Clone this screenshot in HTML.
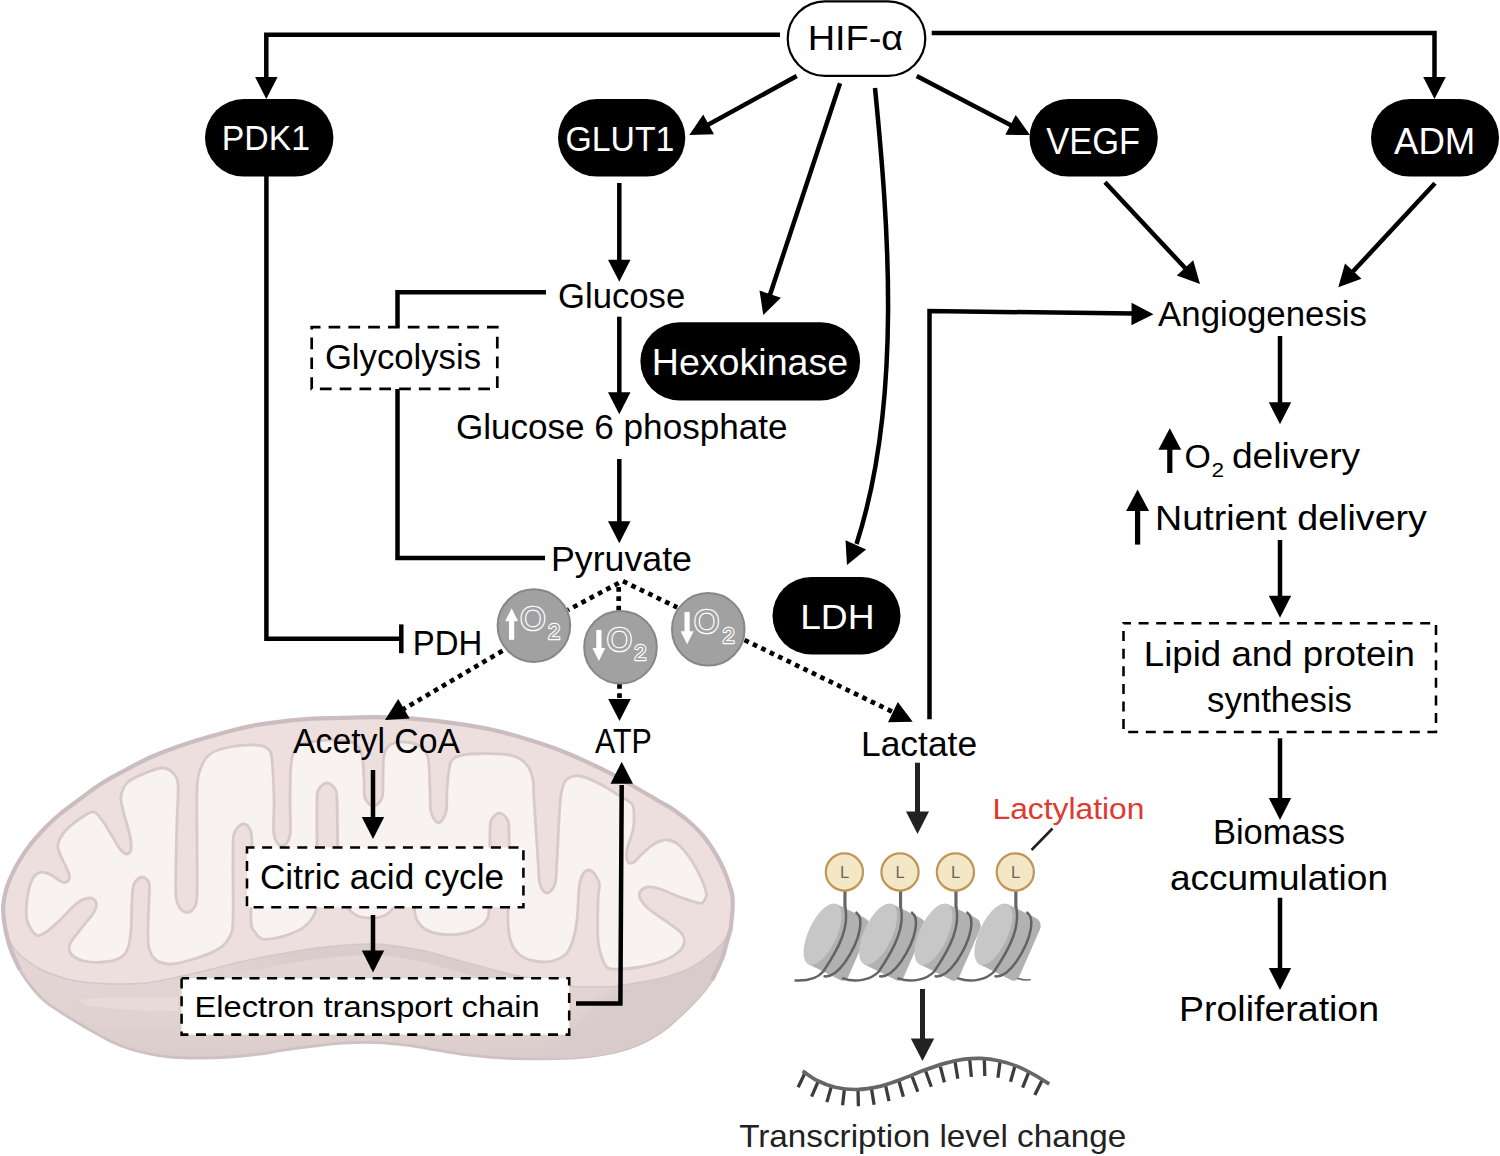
<!DOCTYPE html>
<html><head><meta charset="utf-8"><title>HIF-α signalling</title>
<style>
html,body{margin:0;padding:0;background:#fff;}
svg{display:block;}
text{font-family:"Liberation Sans",Arial,sans-serif;}
</style></head><body>
<svg width="1500" height="1156" viewBox="0 0 1500 1156">
<rect width="1500" height="1156" fill="#fff"/>
<defs><linearGradient id="sw" x1="0" y1="0" x2="0" y2="1"><stop offset="0.7" stop-color="#e3d6d4"/><stop offset="0.88" stop-color="#e0d2d1"/><stop offset="1" stop-color="#dccdcd"/></linearGradient><linearGradient id="sr" gradientUnits="userSpaceOnUse" x1="578" y1="1011" x2="590" y2="1024"><stop offset="0" stop-color="#d9cacb" stop-opacity="0"/><stop offset="1" stop-color="#d9cacb" stop-opacity="1"/></linearGradient><linearGradient id="rim" gradientUnits="userSpaceOnUse" x1="0" y1="0" x2="750" y2="0"><stop offset="0.27" stop-color="#dbcccc" stop-opacity="0"/><stop offset="0.4" stop-color="#dbcccc" stop-opacity="1"/><stop offset="0.62" stop-color="#dbcccc" stop-opacity="1"/><stop offset="0.76" stop-color="#dbcccc" stop-opacity="0"/></linearGradient></defs>
<g id="mito">
<clipPath id="oc"><path d="M 3.5,915 C 3.1,910.8 2.9,909.2 3.3,905 C 3.7,900.8 4.9,894.3 6,890 C 7.1,885.7 8,883.5 10,879 C 12,874.5 14.7,868.7 18,863 C 21.3,857.3 25.5,850.8 30,845 C 34.5,839.2 40,833.2 45,828 C 50,822.8 54.2,818.8 60,814 C 65.8,809.2 73.3,803.9 80,799 C 86.7,794.1 93.3,788.8 100,784.5 C 106.7,780.2 111.7,777.5 120,773 C 128.3,768.5 141.7,761.4 150,757.5 C 158.3,753.6 163.3,752 170,749.5 C 176.7,747 183.3,744.7 190,742.5 C 196.7,740.3 201.7,738.8 210,736.5 C 218.3,734.2 231.7,730.5 240,728.5 C 248.3,726.5 250,725.9 260,724.4 C 270,722.9 287.8,720.6 300,719.6 C 312.2,718.6 318.6,718.5 333,718.1 C 347.4,717.7 368.9,716.8 386.7,717.3 C 404.5,717.8 422.2,719.2 440,721.3 C 457.8,723.4 475.5,726 493.3,730 C 511.1,734 532.4,740.8 546.7,745.5 C 561,750.2 568.3,753.7 579,758.4 C 589.7,763.1 602.2,769.1 611,773.6 C 619.8,778.1 623.8,780.6 631.8,785.2 C 639.8,789.8 652.3,797.3 659,801.2 C 665.7,805.1 667.2,805.5 672,808.8 C 676.8,812.1 682.7,816.1 688,820.8 C 693.3,825.5 699.3,831.2 704,836.8 C 708.7,842.4 712.5,848.5 716,854.4 C 719.5,860.3 722.4,866.4 724.8,872 C 727.2,877.6 729.1,884 730.4,888 C 731.7,892 732,893.2 732.4,896 C 732.8,898.8 732.7,902.3 732.7,905 C 732.7,907.7 732.7,908.7 732.4,912 C 732.1,915.3 731.3,922 731,925 C 730.7,928 731.2,926.8 730.4,930 C 729.6,933.2 727.8,939.2 726.4,944 C 725,948.8 724.4,953 722,959 C 719.6,965 715.8,973.7 712,980 C 708.2,986.3 706.3,989.2 699,997 C 691.7,1004.8 677.2,1019.3 668,1026.8 C 658.8,1034.3 652,1038 644,1042 C 636,1046 628,1048.7 620,1051 C 612,1053.3 604,1054.5 596,1055.7 C 588,1056.9 582,1057.5 572,1058 C 562,1058.5 547.3,1058.8 536,1058.8 C 524.7,1058.8 514.7,1058.8 504,1058.2 C 493.3,1057.6 482.7,1056.7 472,1055.4 C 461.3,1054.2 450.7,1052.4 440,1050.7 C 429.3,1049 418.7,1046.8 408,1045.4 C 397.3,1044.1 386.7,1043 376,1042.6 C 365.3,1042.2 354.7,1042.6 344,1043.2 C 333.3,1043.8 322.7,1045.2 312,1046.4 C 301.3,1047.7 288.7,1049.4 280,1050.7 C 271.3,1052 268.3,1053 260,1054 C 251.7,1055 240,1056.3 230,1057 C 220,1057.7 210,1058 200,1058 C 190,1058 178.3,1057.7 170,1057 C 161.7,1056.3 156.7,1055.3 150,1054 C 143.3,1052.7 136.7,1051.2 130,1049 C 123.3,1046.8 116.7,1044.2 110,1041 C 103.3,1037.8 96.7,1033.8 90,1030 C 83.3,1026.2 77.2,1022.5 70,1018 C 62.8,1013.5 53,1007.7 47,1003 C 41,998.3 38.5,995.5 34,990 C 29.5,984.5 23.8,976.7 20,970 C 16.2,963.3 13.4,956.7 11,950 C 8.6,943.3 6.8,935.8 5.5,930 C 4.2,924.2 3.9,919.2 3.5,915 Z"/></clipPath>
<path d="M 3.5,915 C 3.1,910.8 2.9,909.2 3.3,905 C 3.7,900.8 4.9,894.3 6,890 C 7.1,885.7 8,883.5 10,879 C 12,874.5 14.7,868.7 18,863 C 21.3,857.3 25.5,850.8 30,845 C 34.5,839.2 40,833.2 45,828 C 50,822.8 54.2,818.8 60,814 C 65.8,809.2 73.3,803.9 80,799 C 86.7,794.1 93.3,788.8 100,784.5 C 106.7,780.2 111.7,777.5 120,773 C 128.3,768.5 141.7,761.4 150,757.5 C 158.3,753.6 163.3,752 170,749.5 C 176.7,747 183.3,744.7 190,742.5 C 196.7,740.3 201.7,738.8 210,736.5 C 218.3,734.2 231.7,730.5 240,728.5 C 248.3,726.5 250,725.9 260,724.4 C 270,722.9 287.8,720.6 300,719.6 C 312.2,718.6 318.6,718.5 333,718.1 C 347.4,717.7 368.9,716.8 386.7,717.3 C 404.5,717.8 422.2,719.2 440,721.3 C 457.8,723.4 475.5,726 493.3,730 C 511.1,734 532.4,740.8 546.7,745.5 C 561,750.2 568.3,753.7 579,758.4 C 589.7,763.1 602.2,769.1 611,773.6 C 619.8,778.1 623.8,780.6 631.8,785.2 C 639.8,789.8 652.3,797.3 659,801.2 C 665.7,805.1 667.2,805.5 672,808.8 C 676.8,812.1 682.7,816.1 688,820.8 C 693.3,825.5 699.3,831.2 704,836.8 C 708.7,842.4 712.5,848.5 716,854.4 C 719.5,860.3 722.4,866.4 724.8,872 C 727.2,877.6 729.1,884 730.4,888 C 731.7,892 732,893.2 732.4,896 C 732.8,898.8 732.7,902.3 732.7,905 C 732.7,907.7 732.7,908.7 732.4,912 C 732.1,915.3 731.3,922 731,925 C 730.7,928 731.2,926.8 730.4,930 C 729.6,933.2 727.8,939.2 726.4,944 C 725,948.8 724.4,953 722,959 C 719.6,965 715.8,973.7 712,980 C 708.2,986.3 706.3,989.2 699,997 C 691.7,1004.8 677.2,1019.3 668,1026.8 C 658.8,1034.3 652,1038 644,1042 C 636,1046 628,1048.7 620,1051 C 612,1053.3 604,1054.5 596,1055.7 C 588,1056.9 582,1057.5 572,1058 C 562,1058.5 547.3,1058.8 536,1058.8 C 524.7,1058.8 514.7,1058.8 504,1058.2 C 493.3,1057.6 482.7,1056.7 472,1055.4 C 461.3,1054.2 450.7,1052.4 440,1050.7 C 429.3,1049 418.7,1046.8 408,1045.4 C 397.3,1044.1 386.7,1043 376,1042.6 C 365.3,1042.2 354.7,1042.6 344,1043.2 C 333.3,1043.8 322.7,1045.2 312,1046.4 C 301.3,1047.7 288.7,1049.4 280,1050.7 C 271.3,1052 268.3,1053 260,1054 C 251.7,1055 240,1056.3 230,1057 C 220,1057.7 210,1058 200,1058 C 190,1058 178.3,1057.7 170,1057 C 161.7,1056.3 156.7,1055.3 150,1054 C 143.3,1052.7 136.7,1051.2 130,1049 C 123.3,1046.8 116.7,1044.2 110,1041 C 103.3,1037.8 96.7,1033.8 90,1030 C 83.3,1026.2 77.2,1022.5 70,1018 C 62.8,1013.5 53,1007.7 47,1003 C 41,998.3 38.5,995.5 34,990 C 29.5,984.5 23.8,976.7 20,970 C 16.2,963.3 13.4,956.7 11,950 C 8.6,943.3 6.8,935.8 5.5,930 C 4.2,924.2 3.9,919.2 3.5,915 Z" fill="url(#sw)" stroke="#cec1c2" stroke-width="2.8"/>
<path d="M 3.5,915 C 3.1,910.8 2.9,909.2 3.3,905 C 3.7,900.8 4.9,894.3 6,890 C 7.1,885.7 8,883.5 10,879 C 12,874.5 14.7,868.7 18,863 C 21.3,857.3 25.5,850.8 30,845 C 34.5,839.2 40,833.2 45,828 C 50,822.8 54.2,818.8 60,814 C 65.8,809.2 73.3,803.9 80,799 C 86.7,794.1 93.3,788.8 100,784.5 C 106.7,780.2 111.7,777.5 120,773 C 128.3,768.5 141.7,761.4 150,757.5 C 158.3,753.6 163.3,752 170,749.5 C 176.7,747 183.3,744.7 190,742.5 C 196.7,740.3 201.7,738.8 210,736.5 C 218.3,734.2 231.7,730.5 240,728.5 C 248.3,726.5 250,725.9 260,724.4 C 270,722.9 287.8,720.6 300,719.6 C 312.2,718.6 318.6,718.5 333,718.1 C 347.4,717.7 368.9,716.8 386.7,717.3 C 404.5,717.8 422.2,719.2 440,721.3 C 457.8,723.4 475.5,726 493.3,730 C 511.1,734 532.4,740.8 546.7,745.5 C 561,750.2 568.3,753.7 579,758.4 C 589.7,763.1 602.2,769.1 611,773.6 C 619.8,778.1 623.8,780.6 631.8,785.2 C 639.8,789.8 652.3,797.3 659,801.2 C 665.7,805.1 667.2,805.5 672,808.8 C 676.8,812.1 682.7,816.1 688,820.8 C 693.3,825.5 699.3,831.2 704,836.8 C 708.7,842.4 712.5,848.5 716,854.4 C 719.5,860.3 722.4,866.4 724.8,872 C 727.2,877.6 729.1,884 730.4,888 C 731.7,892 732,893.2 732.4,896 C 732.8,898.8 732.7,902.3 732.7,905 C 732.7,907.7 732.7,908.7 732.4,912 C 732.1,915.3 731.3,922 731,925 C 730.7,928 731.2,926.8 730.4,930 C 729.6,933.2 727.8,939.2 726.4,944 C 725,948.8 724.4,953 722,959 C 719.6,965 715.8,973.7 712,980 C 708.2,986.3 706.3,989.2 699,997 C 691.7,1004.8 677.2,1019.3 668,1026.8 C 658.8,1034.3 652,1038 644,1042 C 636,1046 628,1048.7 620,1051 C 612,1053.3 604,1054.5 596,1055.7 C 588,1056.9 582,1057.5 572,1058 C 562,1058.5 547.3,1058.8 536,1058.8 C 524.7,1058.8 514.7,1058.8 504,1058.2 C 493.3,1057.6 482.7,1056.7 472,1055.4 C 461.3,1054.2 450.7,1052.4 440,1050.7 C 429.3,1049 418.7,1046.8 408,1045.4 C 397.3,1044.1 386.7,1043 376,1042.6 C 365.3,1042.2 354.7,1042.6 344,1043.2 C 333.3,1043.8 322.7,1045.2 312,1046.4 C 301.3,1047.7 288.7,1049.4 280,1050.7 C 271.3,1052 268.3,1053 260,1054 C 251.7,1055 240,1056.3 230,1057 C 220,1057.7 210,1058 200,1058 C 190,1058 178.3,1057.7 170,1057 C 161.7,1056.3 156.7,1055.3 150,1054 C 143.3,1052.7 136.7,1051.2 130,1049 C 123.3,1046.8 116.7,1044.2 110,1041 C 103.3,1037.8 96.7,1033.8 90,1030 C 83.3,1026.2 77.2,1022.5 70,1018 C 62.8,1013.5 53,1007.7 47,1003 C 41,998.3 38.5,995.5 34,990 C 29.5,984.5 23.8,976.7 20,970 C 16.2,963.3 13.4,956.7 11,950 C 8.6,943.3 6.8,935.8 5.5,930 C 4.2,924.2 3.9,919.2 3.5,915 Z" fill="url(#sr)"/>
<path d="M 78,1000 C 110,996 150,998 178,997 L 178,1011 C 150,1011 110,1009 90,1006 Z" fill="#e7dbd9"/>
<path d="M 731,925 C 729.7,927.8 727.3,936.6 723.3,942 C 719.2,947.4 712.2,953 706.7,957.3 C 701.2,961.6 695.6,965.1 690,968 C 684.4,970.9 678.8,972.8 673.3,974.7 C 667.8,976.6 662.2,978 656.7,979.3 C 651.2,980.6 646.1,981.3 640,982.3 C 633.9,983.3 625.3,984.7 620,985.5 C 614.7,986.3 614,986.8 608,987 C 602,987.2 590.3,986.8 584,986.6 C 577.7,986.4 582.3,988.1 570,986 C 557.7,983.9 530,978.7 510,974 C 490,969.3 465,962 450,958 C 435,954 432.5,952.3 420,950 C 407.5,947.7 390.8,944.5 375,944 C 359.2,943.5 340.8,945.3 325,947 C 309.2,948.7 294.2,951.5 280,954 C 265.8,956.5 253.3,959 240,962 C 226.7,965 215,968.6 200,972 C 185,975.4 163.3,980.5 150,982.5 C 136.7,984.5 128.3,983.8 120,984 C 111.7,984.2 106.7,983.9 100,983.5 C 93.3,983.1 86.7,982.6 80,981.5 C 73.3,980.4 66.7,979.1 60,977 C 53.3,974.9 46.7,972.7 40,969 C 33.3,965.3 25.2,959.8 20,955 C 14.8,950.2 11.6,945 9,940 C 6.4,935 5.1,929.2 4.2,925 C 3.3,920.8 3.6,916.7 3.5,915 " fill="none" stroke="url(#rim)" stroke-width="22" clip-path="url(#oc)"/>
<path d="M 3.5,915 C 3.4,911.7 2.9,909.2 3.3,905 C 3.7,900.8 4.9,894.3 6,890 C 7.1,885.7 8,883.5 10,879 C 12,874.5 14.7,868.7 18,863 C 21.3,857.3 25.5,850.8 30,845 C 34.5,839.2 40,833.2 45,828 C 50,822.8 54.2,818.8 60,814 C 65.8,809.2 73.3,803.9 80,799 C 86.7,794.1 93.3,788.8 100,784.5 C 106.7,780.2 111.7,777.5 120,773 C 128.3,768.5 141.7,761.4 150,757.5 C 158.3,753.6 163.3,752 170,749.5 C 176.7,747 183.3,744.7 190,742.5 C 196.7,740.3 201.7,738.8 210,736.5 C 218.3,734.2 231.7,730.5 240,728.5 C 248.3,726.5 250,725.9 260,724.4 C 270,722.9 287.8,720.6 300,719.6 C 312.2,718.6 318.6,718.5 333,718.1 C 347.4,717.7 368.9,716.8 386.7,717.3 C 404.5,717.8 422.2,719.2 440,721.3 C 457.8,723.4 475.5,726 493.3,730 C 511.1,734 532.4,740.8 546.7,745.5 C 561,750.2 568.3,753.7 579,758.4 C 589.7,763.1 602.2,769.1 611,773.6 C 619.8,778.1 623.8,780.6 631.8,785.2 C 639.8,789.8 652.3,797.3 659,801.2 C 665.7,805.1 667.2,805.5 672,808.8 C 676.8,812.1 682.7,816.1 688,820.8 C 693.3,825.5 699.3,831.2 704,836.8 C 708.7,842.4 712.5,848.5 716,854.4 C 719.5,860.3 722.4,866.4 724.8,872 C 727.2,877.6 729.1,884 730.4,888 C 731.7,892 732,893.2 732.4,896 C 732.8,898.8 732.7,902.3 732.7,905 C 732.7,907.7 732.7,908.7 732.4,912 C 732.1,915.3 732.5,920 731,925 C 729.5,930 727.3,936.6 723.3,942 C 719.2,947.4 712.2,953 706.7,957.3 C 701.2,961.6 695.6,965.1 690,968 C 684.4,970.9 678.8,972.8 673.3,974.7 C 667.8,976.6 662.2,978 656.7,979.3 C 651.2,980.6 646.1,981.3 640,982.3 C 633.9,983.3 625.3,984.7 620,985.5 C 614.7,986.3 614,986.8 608,987 C 602,987.2 590.3,986.8 584,986.6 C 577.7,986.4 582.3,988.1 570,986 C 557.7,983.9 530,978.7 510,974 C 490,969.3 465,962 450,958 C 435,954 432.5,952.3 420,950 C 407.5,947.7 390.8,944.5 375,944 C 359.2,943.5 340.8,945.3 325,947 C 309.2,948.7 294.2,951.5 280,954 C 265.8,956.5 253.3,959 240,962 C 226.7,965 215,968.6 200,972 C 185,975.4 163.3,980.5 150,982.5 C 136.7,984.5 128.3,983.8 120,984 C 111.7,984.2 106.7,983.9 100,983.5 C 93.3,983.1 86.7,982.6 80,981.5 C 73.3,980.4 66.7,979.1 60,977 C 53.3,974.9 46.7,972.7 40,969 C 33.3,965.3 25.2,959.8 20,955 C 14.8,950.2 11.6,945 9,940 C 6.4,935 5.1,929.2 4.2,925 C 3.3,920.8 3.6,918.3 3.5,915 Z" fill="#ecdfdd"/>
<path d="M 731,925 C 729.7,927.8 727.3,936.6 723.3,942 C 719.2,947.4 712.2,953 706.7,957.3 C 701.2,961.6 695.6,965.1 690,968 C 684.4,970.9 678.8,972.8 673.3,974.7 C 667.8,976.6 662.2,978 656.7,979.3 C 651.2,980.6 646.1,981.3 640,982.3 C 633.9,983.3 625.3,984.7 620,985.5 C 614.7,986.3 614,986.8 608,987 C 602,987.2 590.3,986.8 584,986.6 C 577.7,986.4 582.3,988.1 570,986 C 557.7,983.9 530,978.7 510,974 C 490,969.3 465,962 450,958 C 435,954 432.5,952.3 420,950 C 407.5,947.7 390.8,944.5 375,944 C 359.2,943.5 340.8,945.3 325,947 C 309.2,948.7 294.2,951.5 280,954 C 265.8,956.5 253.3,959 240,962 C 226.7,965 215,968.6 200,972 C 185,975.4 163.3,980.5 150,982.5 C 136.7,984.5 128.3,983.8 120,984 C 111.7,984.2 106.7,983.9 100,983.5 C 93.3,983.1 86.7,982.6 80,981.5 C 73.3,980.4 66.7,979.1 60,977 C 53.3,974.9 46.7,972.7 40,969 C 33.3,965.3 25.2,959.8 20,955 C 14.8,950.2 11.6,945 9,940 C 6.4,935 5.1,929.2 4.2,925 C 3.3,920.8 3.6,916.7 3.5,915 " fill="none" stroke="#d4c6c7" stroke-width="1.5"/>
<path d="M 20,970 C 18.5,966.7 13.4,956.7 11,950 C 8.6,943.3 6.8,935.8 5.5,930 C 4.2,924.2 3.9,919.2 3.5,915 C 3.1,910.8 2.9,909.2 3.3,905 C 3.7,900.8 4.9,894.3 6,890 C 7.1,885.7 8,883.5 10,879 C 12,874.5 14.7,868.7 18,863 C 21.3,857.3 25.5,850.8 30,845 C 34.5,839.2 40,833.2 45,828 C 50,822.8 54.2,818.8 60,814 C 65.8,809.2 73.3,803.9 80,799 C 86.7,794.1 93.3,788.8 100,784.5 C 106.7,780.2 111.7,777.5 120,773 C 128.3,768.5 141.7,761.4 150,757.5 C 158.3,753.6 163.3,752 170,749.5 C 176.7,747 183.3,744.7 190,742.5 C 196.7,740.3 201.7,738.8 210,736.5 C 218.3,734.2 231.7,730.5 240,728.5 C 248.3,726.5 250,725.9 260,724.4 C 270,722.9 287.8,720.6 300,719.6 C 312.2,718.6 318.6,718.5 333,718.1 C 347.4,717.7 368.9,716.8 386.7,717.3 C 404.5,717.8 422.2,719.2 440,721.3 C 457.8,723.4 475.5,726 493.3,730 C 511.1,734 532.4,740.8 546.7,745.5 C 561,750.2 568.3,753.7 579,758.4 C 589.7,763.1 602.2,769.1 611,773.6 C 619.8,778.1 623.8,780.6 631.8,785.2 C 639.8,789.8 652.3,797.3 659,801.2 C 665.7,805.1 667.2,805.5 672,808.8 C 676.8,812.1 682.7,816.1 688,820.8 C 693.3,825.5 699.3,831.2 704,836.8 C 708.7,842.4 712.5,848.5 716,854.4 C 719.5,860.3 722.4,866.4 724.8,872 C 727.2,877.6 729.1,884 730.4,888 C 731.7,892 732,893.2 732.4,896 C 732.8,898.8 732.7,902.3 732.7,905 C 732.7,907.7 732.7,908.7 732.4,912 C 732.1,915.3 731.3,922 731,925 C 730.7,928 731.2,926.8 730.4,930 C 729.6,933.2 727.8,939.2 726.4,944 C 725,948.8 724.4,953 722,959 C 719.6,965 713.7,976.5 712,980 " fill="none" stroke="#cbbdbf" stroke-width="4.2"/>
<path d="M 36,935 C 32.8,933 28.5,925.8 27,920 C 25.5,914.2 26.2,906.7 27,900 C 27.8,893.3 29.8,884.6 32,880 C 34.2,875.4 37,873.3 40,872.4 C 43,871.5 46.3,872.8 50,874.4 C 53.7,876 59,880.9 62,882 C 65,883.1 66.8,882.3 68,881 C 69.2,879.7 70.3,878.5 69,874 C 67.7,869.5 61.8,859 60,854 C 58.2,849 57,848 58,844 C 59,840 61.7,834.7 66,830 C 70.3,825.3 79.3,819 84,816 C 88.7,813 91,811.3 94,812 C 97,812.7 99,816 102,820 C 105,824 109,831.2 112,836 C 115,840.8 117.5,846 120,849 C 122.5,852 125.2,854 127,854 C 128.8,854 130.5,852 131,849 C 131.5,846 131.3,842.5 130,836 C 128.7,829.5 124.5,816.7 123,810 C 121.5,803.3 120.2,800.7 121,796 C 121.8,791.3 123.5,786 128,782 C 132.5,778 142.3,774.3 148,772 C 153.7,769.7 158,768 162,768 C 166,768 169.3,769.3 172,772 C 174.7,774.7 177.2,776 178,784 C 178.8,792 177.3,807.3 177,820 C 176.7,832.7 176.2,847.3 176,860 C 175.8,872.7 175.3,888 176,896 C 176.7,904 178.2,905.3 180,908 C 181.8,910.7 184.7,912.4 187,912.4 C 189.3,912.4 192.3,910.7 194,908 C 195.7,905.3 196.5,907.3 197,896 C 197.5,884.7 197,857.7 197,840 C 197,822.3 196.5,801.7 197,790 C 197.5,778.3 197.8,776 200,770 C 202.2,764 205,757.8 210,754 C 215,750.2 222.3,748.5 230,747 C 237.7,745.5 249.7,744.7 256,745 C 262.3,745.3 265.3,746.5 268,749 C 270.7,751.5 271,751.5 272,760 C 273,768.5 273.7,787.5 274,800 C 274.3,812.5 272.7,827.3 274,835 C 275.3,842.7 279.3,846 282,846 C 284.7,846 288.7,842.7 290,835 C 291.3,827.3 289.8,811.7 290,800 C 290.2,788.3 290,773.7 291,765 C 292,756.3 292.8,751.8 296,748 C 299.2,744.2 302.7,743.3 310,742 C 317.3,740.7 332.5,739.7 340,740 C 347.5,740.3 351.3,741.5 355,744 C 358.7,746.5 360.5,749 362,755 C 363.5,761 363.5,772.8 364,780 C 364.5,787.2 363.4,793.7 365,798 C 366.6,802.3 370.7,806 373.5,806 C 376.3,806 380.4,802.3 382,798 C 383.6,793.7 382.7,787.2 383,780 C 383.3,772.8 382.8,760.8 384,755 C 385.2,749.2 386.5,747.2 390,745 C 393.5,742.8 400,741.8 405,742 C 410,742.2 416.2,743.3 420,746 C 423.8,748.7 426.3,750.7 428,758 C 429.7,765.3 429.5,781 430,790 C 430.5,799 429.6,806.5 431,812 C 432.4,817.5 436,823 438.5,823 C 441,823 444.6,817.5 446,812 C 447.4,806.5 446.5,797 447,790 C 447.5,783 448,775.2 449,770 C 450,764.8 449.5,761.7 453,759 C 456.5,756.3 460.5,754.7 470,754 C 479.5,753.3 500.5,753.2 510,755 C 519.5,756.8 523.2,760.8 527,765 C 530.8,769.2 531.8,774.2 533,780 C 534.2,785.8 533.2,786.7 534,800 C 534.8,813.3 537,846 538,860 C 539,874 538.5,878.5 540,884 C 541.5,889.5 544.5,893 547,893 C 549.5,893 553.3,889.5 555,884 C 556.7,878.5 556.3,870.7 557,860 C 557.7,849.3 558.3,830.8 559,820 C 559.7,809.2 559.8,801.7 561,795 C 562.2,788.3 562.8,783.2 566,780 C 569.2,776.8 574.3,775.3 580,776 C 585.7,776.7 593.3,780.7 600,784 C 606.7,787.3 614.7,792.7 620,796 C 625.3,799.3 629.7,800.8 632,804 C 634.3,807.2 633.8,810.7 634,815 C 634.2,819.3 634.2,824.2 633,830 C 631.8,835.8 627.8,844.7 627,850 C 626.2,855.3 626.8,860 628,862 C 629.2,864 631.7,863.3 634,862 C 636.3,860.7 638.7,857 642,854 C 645.3,851 649.8,846.3 654,844 C 658.2,841.7 662.7,839.7 667,840 C 671.3,840.3 675.2,841.3 680,846 C 684.8,850.7 691.7,860.3 696,868 C 700.3,875.7 704.7,886.5 706,892 C 707.3,897.5 705.3,899.2 704,901 C 702.7,902.8 702,903.7 698,903 C 694,902.3 686.3,899.3 680,897 C 673.7,894.7 665.3,890.7 660,889 C 654.7,887.3 651.3,886.5 648,887 C 644.7,887.5 641.2,889.8 640,892 C 638.8,894.2 639.3,897 641,900 C 642.7,903 645.2,906 650,910 C 654.8,914 664.7,920 670,924 C 675.3,928 679.7,930.7 682,934 C 684.3,937.3 685,940.7 684,944 C 683,947.3 680,951 676,954 C 672,957 666,959.8 660,962 C 654,964.2 646.3,965.8 640,967 C 633.7,968.2 627.3,968.8 622,969 C 616.7,969.2 611.3,969.8 608,968 C 604.7,966.2 603.7,962.7 602,958 C 600.3,953.3 598.7,949.7 598,940 C 597.3,930.3 597.8,909.7 598,900 C 598.2,890.3 600.5,887 599,882 C 597.5,877 592.2,870 589,870 C 585.8,870 582,873.7 580,882 C 578,890.3 578.2,910.3 577,920 C 575.8,929.7 574.8,934.3 573,940 C 571.2,945.7 569.5,950.5 566,954 C 562.5,957.5 557.2,959.8 552,961 C 546.8,962.2 540.3,962 535,961 C 529.7,960 524,958.2 520,955 C 516,951.8 513,947.8 511,942 C 509,936.2 508.3,930.3 508,920 C 507.7,909.7 508.8,895 509,880 C 509.2,865 509.3,840.2 509,830 C 508.7,819.8 508.6,821.8 507,819 C 505.4,816.2 502,813 499.5,813 C 497,813 493.6,816.2 492,819 C 490.4,821.8 490.3,819.8 490,830 C 489.7,840.2 490.2,866.7 490,880 C 489.8,893.3 489.7,903.2 489,910 C 488.3,916.8 488.2,917.8 486,921 C 483.8,924.2 480.3,926.8 476,929 C 471.7,931.2 466,933.2 460,934 C 454,934.8 445.8,934.8 440,934 C 434.2,933.2 429,931.7 425,929 C 421,926.3 417.8,922.8 416,918 C 414.2,913.2 414.5,905.5 414,900 C 413.5,894.5 414.7,888.8 413,885 C 411.3,881.2 407,877 404,877 C 401,877 396.7,880.3 395,885 C 393.3,889.7 394.8,900.5 394,905 C 393.2,909.5 392.3,910 390,912 C 387.7,914 383.5,916 380,917 C 376.5,918 372.7,918.2 369,918 C 365.3,917.8 361.5,917.7 358,916 C 354.5,914.3 350.2,911.5 348,908 C 345.8,904.5 346,899.7 345,895 C 344,890.3 343.2,887.5 342,880 C 340.8,872.5 338.8,863.3 338,850 C 337.2,836.7 337.5,810.2 337,800 C 336.5,789.8 336.7,791.8 335,789 C 333.3,786.2 329.7,783 327,783 C 324.3,783 320.7,786.2 319,789 C 317.3,791.8 317.3,789.8 317,800 C 316.7,810.2 317,833.3 317,850 C 317,866.7 317.5,889.2 317,900 C 316.5,910.8 316.2,910.5 314,915 C 311.8,919.5 308,923.8 304,927 C 300,930.2 294.7,932.2 290,934 C 285.3,935.8 280.7,937.2 276,938 C 271.3,938.8 265.5,940 262,939 C 258.5,938 256.8,935.2 255,932 C 253.2,928.8 251.5,932 251,920 C 250.5,908 252,874.7 252,860 C 252,845.3 252.5,838 251,832 C 249.5,826 245.8,823.7 243,824 C 240.2,824.3 235.7,828 234,834 C 232.3,840 233.2,845.7 233,860 C 232.8,874.3 233.5,907.3 233,920 C 232.5,932.7 232.2,931.3 230,936 C 227.8,940.7 225,944.5 220,948 C 215,951.5 208,954.3 200,957 C 192,959.7 179.3,963.5 172,964 C 164.7,964.5 159.8,962.7 156,960 C 152.2,957.3 150.3,953 149,948 C 147.7,943 148,938 148,930 C 148,922 148.8,907.8 149,900 C 149.2,892.2 150.2,886.8 149,883 C 147.8,879.2 144.5,876.8 142,877 C 139.5,877.2 135.7,880.2 134,884 C 132.3,887.8 132.5,892.3 132,900 C 131.5,907.7 131.7,922 131,930 C 130.3,938 129.8,943.3 128,948 C 126.2,952.7 124,955.7 120,958 C 116,960.3 110,961.5 104,962 C 98,962.5 89.5,962.3 84,961 C 78.5,959.7 73.3,956.8 71,954 C 68.7,951.2 68.5,948 70,944 C 71.5,940 76,935.3 80,930 C 84,924.7 91.3,916.7 94,912 C 96.7,907.3 96.8,904.3 96,902 C 95.2,899.7 92.3,897.7 89,898 C 85.7,898.3 80.8,900.3 76,904 C 71.2,907.7 65,915.3 60,920 C 55,924.7 50,929.5 46,932 C 42,934.5 39.2,937 36,935 Z" fill="#f8f3f0" stroke="#d9c9c9" stroke-width="2.8" stroke-linejoin="round"/>
</g>
<rect x="311.7" y="327.2" width="185.6" height="61.6" fill="none" stroke="#000" stroke-width="2.7" stroke-dasharray="11.7 8.1" stroke-dashoffset="2.9"/>
<rect x="247" y="847.5" width="276.4" height="59.7" fill="#fff" stroke="#000" stroke-width="2.55" stroke-dasharray="10 7.6" stroke-dashoffset="2.5"/>
<rect x="181.6" y="978.3" width="387.6" height="56.3" fill="#fff" stroke="#000" stroke-width="2.55" stroke-dasharray="10 7.6" stroke-dashoffset="2.5"/>
<rect x="1123.5" y="623.2" width="312.5" height="108.8" fill="none" stroke="#000" stroke-width="2.55" stroke-dasharray="10 7.6" stroke-dashoffset="2.5"/>
<rect x="787.7" y="1.4" width="137.6" height="74.4" rx="37.2" fill="#fff" stroke="#000" stroke-width="2.2"/>
<rect x="205" y="99" width="128.4" height="77.6" rx="38.8" fill="#000" stroke="none" stroke-width="0"/>
<rect x="558" y="99" width="127.3" height="77.6" rx="38.8" fill="#000" stroke="none" stroke-width="0"/>
<rect x="1029.5" y="99" width="128.3" height="77.6" rx="38.8" fill="#000" stroke="none" stroke-width="0"/>
<rect x="1371" y="99" width="128" height="77.6" rx="38.8" fill="#000" stroke="none" stroke-width="0"/>
<rect x="640.4" y="322.2" width="219.7" height="78.3" rx="39.2" fill="#000" stroke="none" stroke-width="0"/>
<rect x="772.5" y="577" width="128" height="77.5" rx="38.8" fill="#000" stroke="none" stroke-width="0"/>
<g fill="none" stroke="#000" stroke-width="4.5">
<path d="M 780,34.7 H 266.3 V 80"/>
<path d="M 931.7,33 H 1434.5 V 80"/>
<path d="M 266.4,176 V 638.7 H 401"/>
<path d="M 401.3,624.4 V 653.2"/>
<path d="M 546,292.3 H 397.5 V 327"/>
<path d="M 397.5,389 V 558 H 545"/>
<path d="M 929.5,719.3 V 311 L 1134,313.6"/>
<path d="M 576,1003.6 H 620.4 L 621.7,785"/>
<path d="M 875,88 C 888,220 903,400 856.5,544"/>
</g>
<polygon points="266.3,99 255.1,77 277.6,77" fill="#000"/>
<polygon points="1434.5,99 1423.2,77 1445.8,77" fill="#000"/>
<polygon points="1153.5,314.2 1131.4,325.2 1131.6,302.7" fill="#000"/>
<polygon points="621.7,761.8 633,783.8 610.5,783.8" fill="#000"/>
<polygon points="847,565 845.5,540.3 866.1,549.4" fill="#000"/>
<line x1="796.7" y1="76" x2="706.7" y2="125.5" stroke="#000" stroke-width="4.5"/><polygon points="689.3,135 703.2,114.5 714,134.3" fill="#000"/>
<line x1="840" y1="83.3" x2="769.5" y2="296.2" stroke="#000" stroke-width="4.5"/><polygon points="763.3,315 759.5,290.6 780.9,297.7" fill="#000"/>
<line x1="916.7" y1="76" x2="1012.4" y2="125.9" stroke="#000" stroke-width="4.5"/><polygon points="1030,135 1005.3,134.8 1015.7,114.9" fill="#000"/>
<line x1="619.3" y1="183" x2="619.3" y2="261.9" stroke="#000" stroke-width="4.5"/><polygon points="619.3,281.7 608,259.7 630.5,259.7" fill="#000"/>
<line x1="619.3" y1="316.7" x2="619.3" y2="394.5" stroke="#000" stroke-width="4.5"/><polygon points="619.3,414.3 608,392.3 630.5,392.3" fill="#000"/>
<line x1="619.3" y1="459" x2="619.3" y2="523.5" stroke="#000" stroke-width="4.5"/><polygon points="619.3,543.3 608,521.3 630.5,521.3" fill="#000"/>
<line x1="1105" y1="182.3" x2="1186.5" y2="269.5" stroke="#000" stroke-width="4.5"/><polygon points="1200,284 1176.8,275.6 1193.2,260.2" fill="#000"/>
<line x1="1435" y1="183.3" x2="1351.8" y2="272.8" stroke="#000" stroke-width="4.5"/><polygon points="1338.3,287.3 1345,263.5 1361.5,278.8" fill="#000"/>
<line x1="1280" y1="336" x2="1280" y2="404.5" stroke="#000" stroke-width="4.5"/><polygon points="1280,424.3 1268.8,402.3 1291.2,402.3" fill="#000"/>
<line x1="1280" y1="540" x2="1280" y2="597.9" stroke="#000" stroke-width="4.5"/><polygon points="1280,617.7 1268.8,595.7 1291.2,595.7" fill="#000"/>
<line x1="1280" y1="738.3" x2="1280" y2="800.2" stroke="#000" stroke-width="4.5"/><polygon points="1280,820 1268.8,798 1291.2,798" fill="#000"/>
<line x1="1280" y1="897.7" x2="1280" y2="970.2" stroke="#000" stroke-width="4.5"/><polygon points="1280,990 1268.8,968 1291.2,968" fill="#000"/>
<line x1="373" y1="770" x2="373" y2="819.2" stroke="#000" stroke-width="4.5"/><polygon points="373,839 361.8,817 384.2,817" fill="#000"/>
<line x1="373" y1="915" x2="373" y2="952.7" stroke="#000" stroke-width="4.5"/><polygon points="373,972.5 361.8,950.5 384.2,950.5" fill="#000"/>
<line x1="917.5" y1="762.7" x2="917.5" y2="813.8" stroke="#222" stroke-width="5"/><polygon points="917.5,834 906,811.5 929,811.5" fill="#222"/>
<line x1="922.5" y1="989" x2="922.5" y2="1040.8" stroke="#222" stroke-width="5"/><polygon points="922.5,1061 910.8,1038.5 934.2,1038.5" fill="#222"/>
<line x1="1169.8" y1="473" x2="1169.8" y2="447.6" stroke="#000" stroke-width="5.2"/><polygon points="1169.8,428.2 1181.2,449.7 1158.4,449.7" fill="#000"/>
<line x1="1137.6" y1="544.6" x2="1137.6" y2="509" stroke="#000" stroke-width="5.2"/><polygon points="1137.6,489.6 1149.1,511.1 1126.1,511.1" fill="#000"/>
<g fill="none" stroke="#000" stroke-width="4.7" stroke-dasharray="4.7 4.66">
<path d="M 618.7,583 L 568,610"/>
<path d="M 618.7,587 V 611"/>
<path d="M 623,581.2 L 677.2,607.4"/>
<path d="M 619.5,684 V 702"/>
</g>
<line x1="502.5" y1="650.8" x2="402.1" y2="710" stroke="#000" stroke-width="4.7" stroke-dasharray="4.7 4.66"/><polygon points="385,720 398.2,699.1 409.7,718.5" fill="#000"/>
<line x1="744.5" y1="640" x2="894.9" y2="713" stroke="#000" stroke-width="4.7" stroke-dasharray="4.7 4.66"/><polygon points="912.7,721.7 888,722.2 897.8,702" fill="#000"/>
<polygon points="619.5,721 608.2,699 630.8,699" fill="#000"/>
<circle cx="533.9" cy="625.6" r="36.3" fill="#a1a1a1" stroke="#878787" stroke-width="2"/><path d="M 511.6,639.8 V 618.3" stroke="#fff" stroke-width="5.2"/><polygon points="511.6,608.3 505.1,621.3 518.1,621.3" fill="#fff"/><text x="520.3" y="629.6" font-size="32.5" fill="#a3a3a3" stroke="#fff" stroke-width="2.5" paint-order="stroke" stroke-linejoin="round">O</text><text x="547.9" y="639.2" font-size="22" fill="#a3a3a3" stroke="#fff" stroke-width="2.3" paint-order="stroke" stroke-linejoin="round">2</text>
<circle cx="620.5" cy="647.2" r="36.3" fill="#a1a1a1" stroke="#878787" stroke-width="2"/><path d="M 598.9,629.9 V 651" stroke="#fff" stroke-width="5.2"/><polygon points="598.9,661 592.4,648 605.4,648" fill="#fff"/><text x="606.7" y="651.2" font-size="32.5" fill="#a3a3a3" stroke="#fff" stroke-width="2.5" paint-order="stroke" stroke-linejoin="round">O</text><text x="634.3" y="660.4" font-size="22" fill="#a3a3a3" stroke="#fff" stroke-width="2.3" paint-order="stroke" stroke-linejoin="round">2</text>
<circle cx="708.3" cy="629.3" r="36.3" fill="#a1a1a1" stroke="#878787" stroke-width="2"/><path d="M 687.1,611.9 V 634.3" stroke="#fff" stroke-width="5.2"/><polygon points="687.1,644.3 680.6,631.3 693.6,631.3" fill="#fff"/><text x="694" y="633.2" font-size="32.5" fill="#a3a3a3" stroke="#fff" stroke-width="2.5" paint-order="stroke" stroke-linejoin="round">O</text><text x="722.5" y="643.2" font-size="22" fill="#a3a3a3" stroke="#fff" stroke-width="2.3" paint-order="stroke" stroke-linejoin="round">2</text>
<g font-family="&quot;Liberation Sans&quot;, Arial, sans-serif">
<text x="558.1" y="308.3" font-size="34.2" fill="#000" textLength="127.1" lengthAdjust="spacingAndGlyphs">Glucose</text>
<text x="324.9" y="369.3" font-size="34.2" fill="#000" textLength="156.1" lengthAdjust="spacingAndGlyphs">Glycolysis</text>
<text x="455.9" y="439.4" font-size="34.2" fill="#000" textLength="331.6" lengthAdjust="spacingAndGlyphs">Glucose 6 phosphate</text>
<text x="551" y="570.7" font-size="34.2" fill="#000" textLength="141" lengthAdjust="spacingAndGlyphs">Pyruvate</text>
<text x="412.8" y="654.5" font-size="34.2" fill="#000" textLength="69.5" lengthAdjust="spacingAndGlyphs">PDH</text>
<text x="293.1" y="752.7" font-size="34.2" fill="#000" textLength="166.9" lengthAdjust="spacingAndGlyphs">Acetyl CoA</text>
<text x="595" y="752.7" font-size="34.2" fill="#000" textLength="56.9" lengthAdjust="spacingAndGlyphs">ATP</text>
<text x="861" y="755.7" font-size="34.2" fill="#000" textLength="116.1" lengthAdjust="spacingAndGlyphs">Lactate</text>
<text x="1158.1" y="326" font-size="34.2" fill="#000" textLength="208.8" lengthAdjust="spacingAndGlyphs">Angiogenesis</text>
<text x="1184.4" y="467.9" font-size="33.8">O</text>
<text x="1211.6" y="476.9" font-size="19.6" transform="translate(1211.6 0) scale(1.15 1) translate(-1211.6 0)">2</text>
<text x="1231.9" y="467.7" font-size="34.2" fill="#000" textLength="128.3" lengthAdjust="spacingAndGlyphs">delivery</text>
<text x="1155.1" y="530" font-size="34.2" fill="#000" textLength="271.8" lengthAdjust="spacingAndGlyphs">Nutrient delivery</text>
<text x="1143.8" y="665.7" font-size="34.2" fill="#000" textLength="271.1" lengthAdjust="spacingAndGlyphs">Lipid and protein</text>
<text x="1207.1" y="711.7" font-size="34.2" fill="#000" textLength="144.9" lengthAdjust="spacingAndGlyphs">synthesis</text>
<text x="1212.9" y="844" font-size="34.2" fill="#000" textLength="132.2" lengthAdjust="spacingAndGlyphs">Biomass</text>
<text x="1169.9" y="890" font-size="34.2" fill="#000" textLength="218.1" lengthAdjust="spacingAndGlyphs">accumulation</text>
<text x="1179" y="1021" font-size="34.2" fill="#000" textLength="200.1" lengthAdjust="spacingAndGlyphs">Proliferation</text>
<text x="260" y="889" font-size="34.2" fill="#000" textLength="244" lengthAdjust="spacingAndGlyphs">Citric acid cycle</text>
<text x="194.4" y="1017" font-size="29.5" fill="#000" textLength="345.4" lengthAdjust="spacingAndGlyphs">Electron transport chain</text>
<text x="807.7" y="50" font-size="35" fill="#000" textLength="95.6" lengthAdjust="spacingAndGlyphs">HIF-α</text>
<text x="221.8" y="149.8" font-size="35.5" fill="#fff" textLength="88.2" lengthAdjust="spacingAndGlyphs">PDK1</text>
<text x="565.5" y="151" font-size="35.5" fill="#fff" textLength="108.8" lengthAdjust="spacingAndGlyphs">GLUT1</text>
<text x="1046.2" y="153.6" font-size="36" fill="#fff" textLength="93.8" lengthAdjust="spacingAndGlyphs">VEGF</text>
<text x="1394" y="153.6" font-size="36" fill="#fff" textLength="81.3" lengthAdjust="spacingAndGlyphs">ADM</text>
<text x="651.8" y="374.8" font-size="36" fill="#fff" textLength="196.3" lengthAdjust="spacingAndGlyphs">Hexokinase</text>
<text x="800.2" y="628.5" font-size="35.5" fill="#fff" textLength="74.4" lengthAdjust="spacingAndGlyphs">LDH</text>
<text x="992.5" y="819.2" font-size="29.5" fill="#e0392f" textLength="152" lengthAdjust="spacingAndGlyphs">Lactylation</text>
<text x="739.2" y="1147" font-size="31.5" fill="#222" textLength="387" lengthAdjust="spacingAndGlyphs">Transcription level change</text>
</g>
<line x1="1052.5" y1="828.5" x2="1031.5" y2="850" stroke="#222" stroke-width="2.6"/>
<g transform="translate(0,0)">
<g transform="translate(790,840) scale(0.13841)">
<path d="M 397,360 V 500" stroke="#666" stroke-width="23" fill="none"/>
<path d="M 336,462 L 535,560 Q 590,588 572,645 L 420,990 Q 398,1032 355,1008 L 134,897 Z" fill="#b1b1b1"/>
<ellipse cx="235" cy="680" rx="102" ry="240" transform="rotate(25 235 680)" fill="#c7c7c7"/>
<path d="M 400,490 C 425,620 370,760 240,950 C 200,1000 120,1018 40,1015" stroke="#636363" stroke-width="18" fill="none" stroke-linecap="round"/>
<path d="M 480,525 C 530,560 520,700 400,880 C 350,950 300,990 250,985" stroke="#636363" stroke-width="18" fill="none" stroke-linecap="round"/>
</g>
<circle cx="844.4" cy="872" r="18.6" fill="#f4e7c6" stroke="#c09658" stroke-width="2.2"/>
<text x="840" y="878" font-family="&quot;Liberation Sans&quot;, Arial, sans-serif" font-size="16.5" fill="#666">L</text>
</g>
<g transform="translate(55.6,0)">
<g transform="translate(790,840) scale(0.13841)">
<path d="M 397,360 V 500" stroke="#666" stroke-width="23" fill="none"/>
<path d="M 336,462 L 535,560 Q 590,588 572,645 L 420,990 Q 398,1032 355,1008 L 134,897 Z" fill="#b1b1b1"/>
<ellipse cx="235" cy="680" rx="102" ry="240" transform="rotate(25 235 680)" fill="#c7c7c7"/>
<path d="M 400,490 C 425,620 370,760 240,950 C 190,1005 80,1035 -20,1000" stroke="#636363" stroke-width="18" fill="none" stroke-linecap="round"/>
<path d="M 480,525 C 530,560 520,700 400,880 C 350,950 300,990 250,985" stroke="#636363" stroke-width="18" fill="none" stroke-linecap="round"/>
</g>
<circle cx="844.4" cy="872" r="18.6" fill="#f4e7c6" stroke="#c09658" stroke-width="2.2"/>
<text x="840" y="878" font-family="&quot;Liberation Sans&quot;, Arial, sans-serif" font-size="16.5" fill="#666">L</text>
</g>
<g transform="translate(111,0)">
<g transform="translate(790,840) scale(0.13841)">
<path d="M 397,360 V 500" stroke="#666" stroke-width="23" fill="none"/>
<path d="M 336,462 L 535,560 Q 590,588 572,645 L 420,990 Q 398,1032 355,1008 L 134,897 Z" fill="#b1b1b1"/>
<ellipse cx="235" cy="680" rx="102" ry="240" transform="rotate(25 235 680)" fill="#c7c7c7"/>
<path d="M 400,490 C 425,620 370,760 240,950 C 190,1005 80,1035 -20,1000" stroke="#636363" stroke-width="18" fill="none" stroke-linecap="round"/>
<path d="M 480,525 C 530,560 520,700 400,880 C 350,950 300,990 250,985" stroke="#636363" stroke-width="18" fill="none" stroke-linecap="round"/>
</g>
<circle cx="844.4" cy="872" r="18.6" fill="#f4e7c6" stroke="#c09658" stroke-width="2.2"/>
<text x="840" y="878" font-family="&quot;Liberation Sans&quot;, Arial, sans-serif" font-size="16.5" fill="#666">L</text>
</g>
<g transform="translate(170.9,0)">
<g transform="translate(790,840) scale(0.13841)">
<path d="M 397,360 V 500" stroke="#666" stroke-width="23" fill="none"/>
<path d="M 336,462 L 535,560 Q 590,588 572,645 L 420,990 Q 398,1032 355,1008 L 134,897 Z" fill="#b1b1b1"/>
<ellipse cx="235" cy="680" rx="102" ry="240" transform="rotate(25 235 680)" fill="#c7c7c7"/>
<path d="M 400,490 C 425,620 370,760 240,950 C 190,1005 80,1035 -20,1000" stroke="#636363" stroke-width="18" fill="none" stroke-linecap="round"/>
<path d="M 480,525 C 530,560 520,700 400,880 C 350,950 300,990 250,985" stroke="#636363" stroke-width="18" fill="none" stroke-linecap="round"/>
<path d="M 410,1000 C 440,1010 470,1012 500,1010" stroke="#6a6a6a" stroke-width="11" fill="none" stroke-linecap="round"/>
</g>
<circle cx="844.4" cy="872" r="18.6" fill="#f4e7c6" stroke="#c09658" stroke-width="2.2"/>
<text x="840" y="878" font-family="&quot;Liberation Sans&quot;, Arial, sans-serif" font-size="16.5" fill="#666">L</text>
</g>
<path d="M 805.8,1071.3 L 798.1,1087.2 M 818.3,1081.2 L 811.6,1096.7 M 831.4,1086.4 L 826.9,1102.1 M 844.4,1089 L 842.6,1105.2 M 858,1089.5 L 858.4,1106.2 M 871.4,1088.1 L 874.1,1104.8 M 885.6,1085.5 L 889,1101.2 M 898.9,1081 L 903.4,1096.7 M 912.2,1076.6 L 917.8,1091.8 M 925.7,1071.2 L 931.3,1086.8 M 940.4,1066.6 L 944.4,1082.3 M 955.1,1062 L 957.8,1078.7 M 969.7,1059.7 L 971.4,1076.9 M 984.3,1059.3 L 984.8,1076 M 1000.1,1061.1 L 997.9,1077.8 M 1015,1065.7 L 1010.5,1081.8 M 1028.8,1072.1 L 1022.6,1087.7 M 1042.5,1079.4 L 1034.8,1094.9" fill="none" stroke="#3c3c3c" stroke-width="3.3"/>
<path d="M 802.6,1071 C 805,1072.5 811.6,1077.8 817,1080.5 C 822.4,1083.2 828.4,1085.7 835,1087.2 C 841.6,1088.7 849.1,1089.6 856.6,1089.5 C 864.1,1089.4 872.5,1088.1 880,1086.4 C 887.5,1084.7 894.4,1081.9 901.6,1079.2 C 908.8,1076.6 916,1073.2 923.2,1070.6 C 930.4,1068 938.2,1065.3 944.8,1063.4 C 951.4,1061.5 956.8,1060.3 962.8,1059.4 C 968.8,1058.6 974.8,1058.1 980.8,1058.4 C 986.8,1058.6 992.8,1059.4 998.8,1060.7 C 1004.8,1062 1010.8,1063.7 1016.8,1066.1 C 1022.8,1068.5 1029.4,1072.1 1034.8,1075.1 C 1040.2,1078.1 1046.8,1082.6 1049.2,1084.1 " fill="none" stroke="#666" stroke-width="3.7"/>
</svg>
</body></html>
